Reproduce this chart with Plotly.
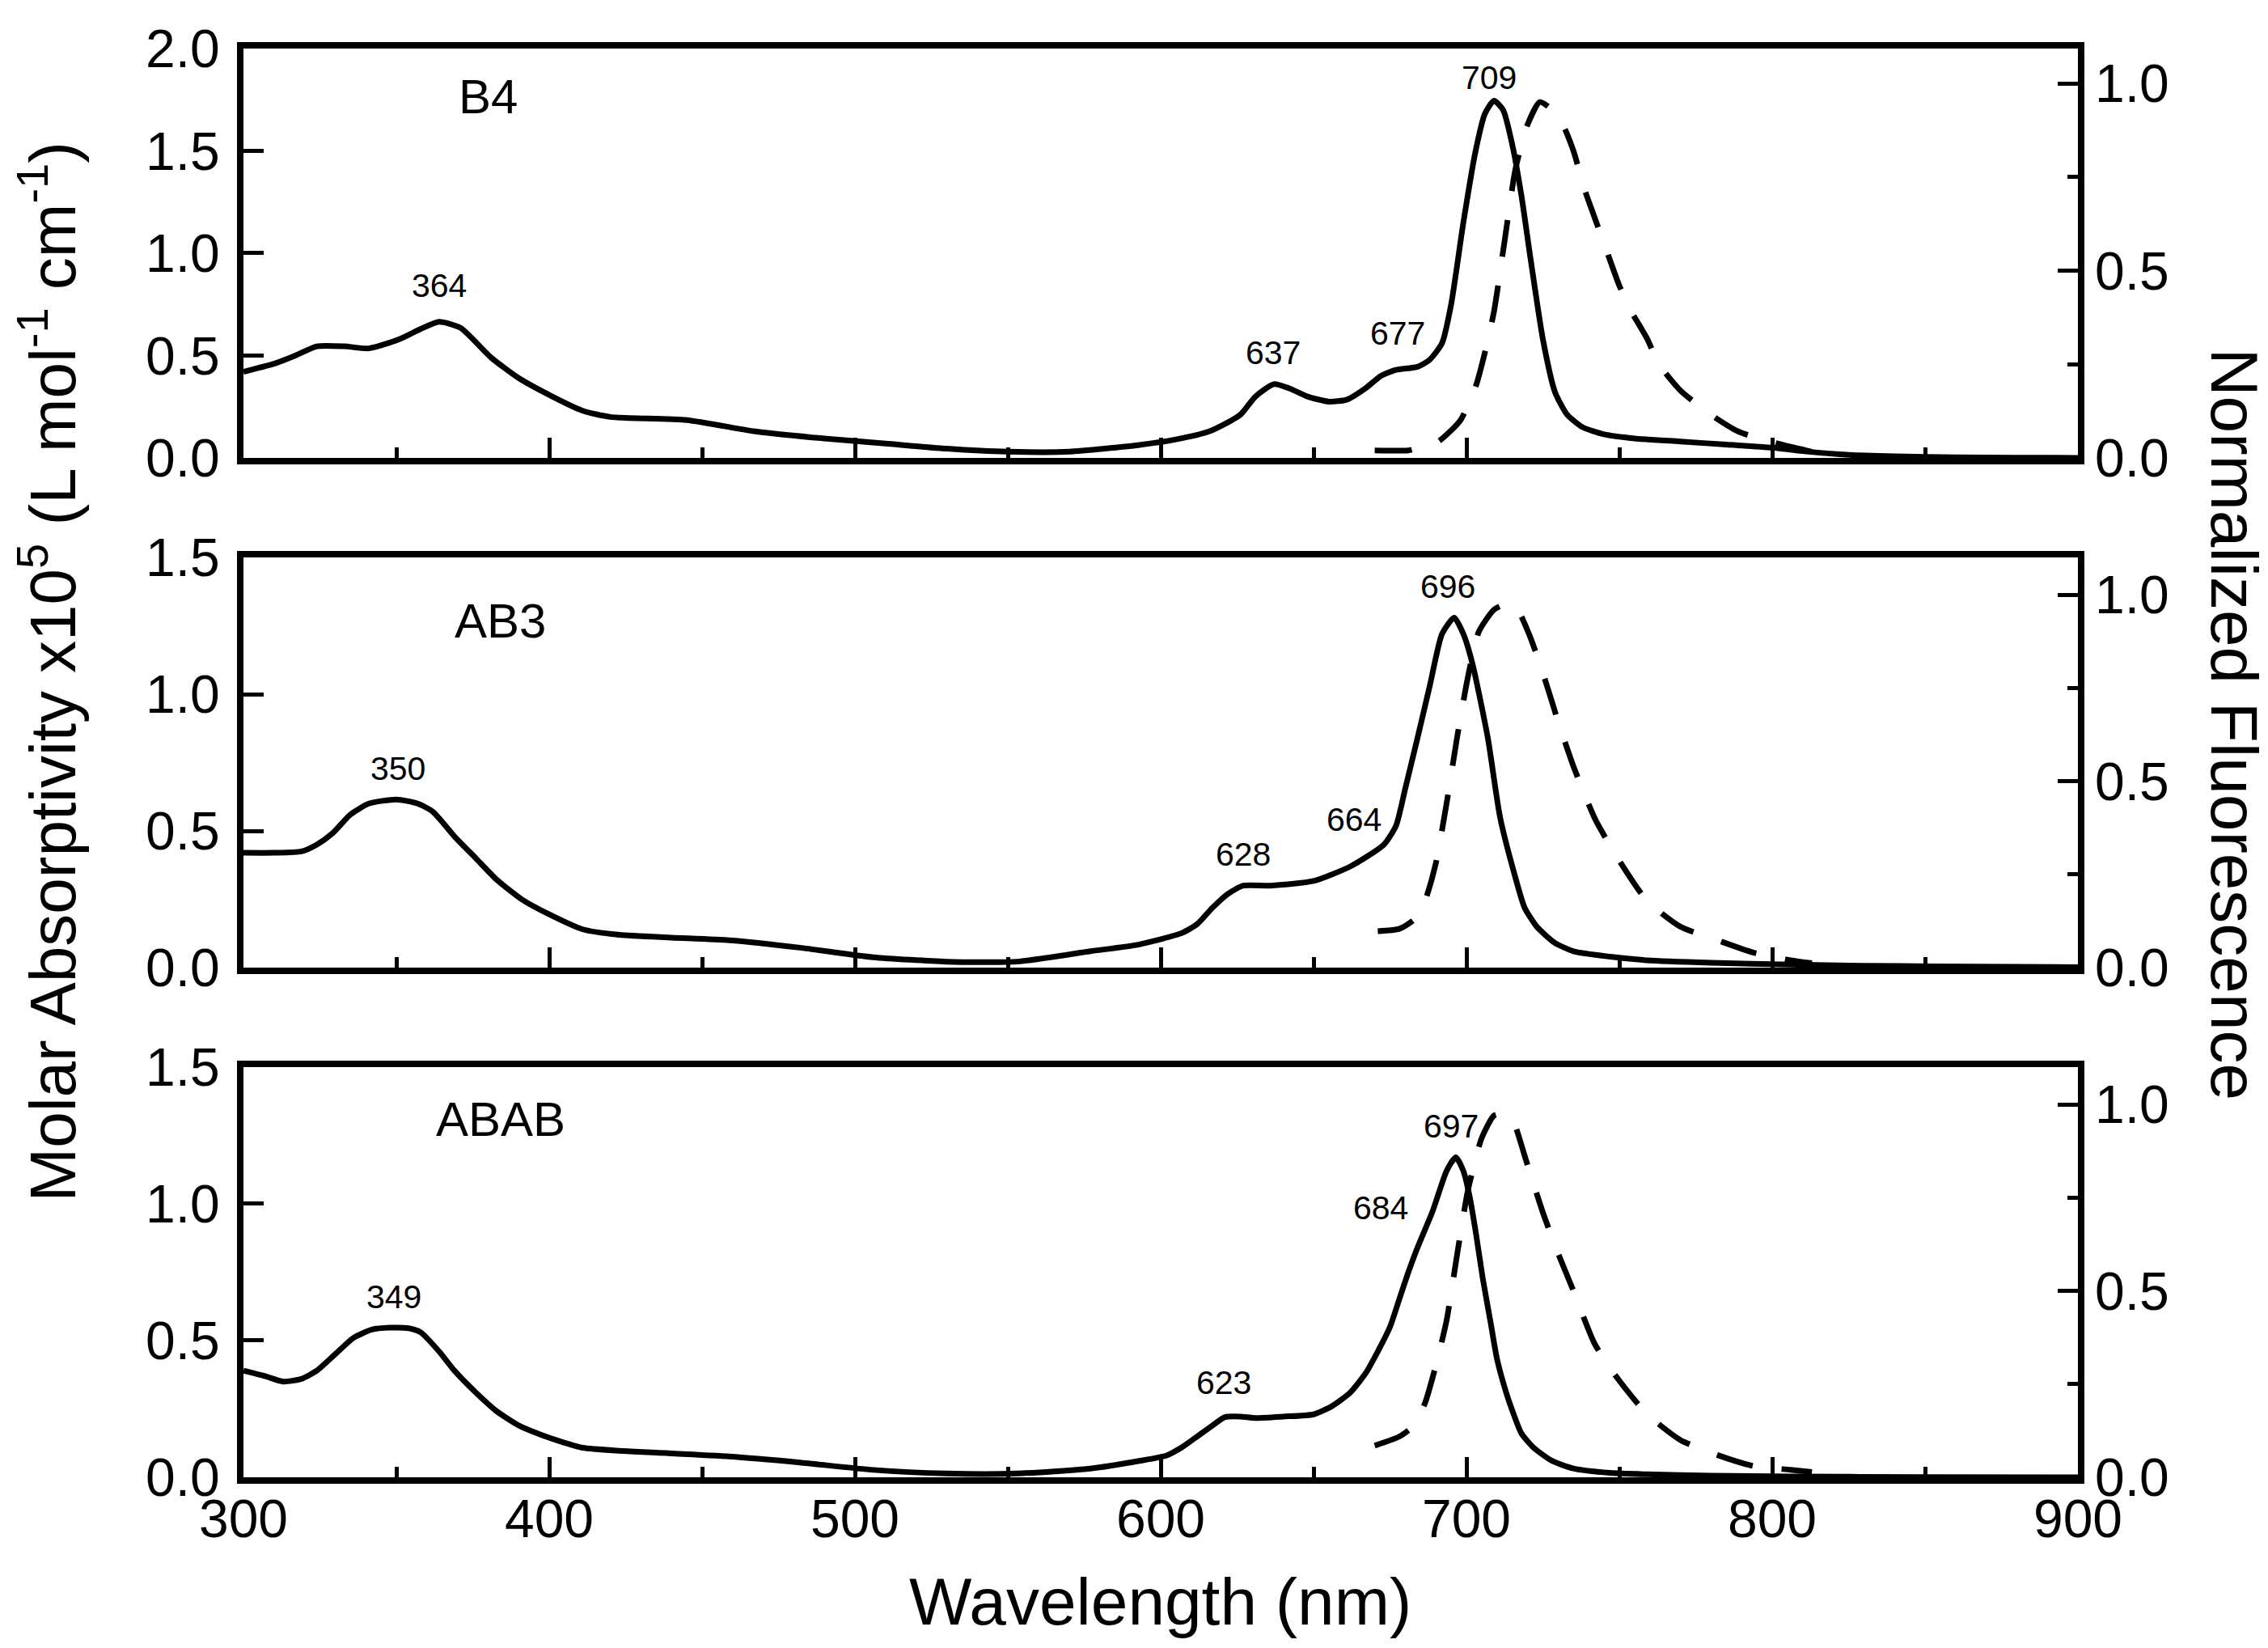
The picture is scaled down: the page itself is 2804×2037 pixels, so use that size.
import plotly.graph_objects as go

# -- datos (longitud de onda en nm)
b4_abs_x = [300, 305, 310, 317, 324, 333, 341, 351, 358, 364, 371, 381, 390, 401, 411, 420,
            445, 467, 486, 510, 530, 550, 570, 593, 605, 616, 626, 631, 637, 642, 648, 655,
            661, 667, 672, 677, 684, 688, 692, 695, 699, 703, 706, 709, 712, 715, 718, 721,
            725, 729, 733, 738, 745, 755, 770, 785, 800, 812, 825, 840, 860, 880, 900]
b4_abs_y = [0.42, 0.44, 0.46, 0.50, 0.545, 0.545, 0.535, 0.58, 0.63, 0.665, 0.635, 0.49, 0.39,
            0.30, 0.23, 0.20, 0.185, 0.13, 0.10, 0.07, 0.045, 0.03, 0.03, 0.063, 0.09, 0.13,
            0.21, 0.30, 0.36, 0.34, 0.30, 0.275, 0.285, 0.34, 0.40, 0.43, 0.445, 0.48, 0.56,
            0.75, 1.15, 1.50, 1.68, 1.745, 1.70, 1.53, 1.28, 0.97, 0.58, 0.32, 0.21, 0.15,
            0.115, 0.095, 0.08, 0.065, 0.05, 0.03, 0.015, 0.008, 0.003, 0.001, 0.0]
b4_fl_x = [670, 681, 686, 691, 698, 703, 706, 709, 712.5, 716, 720, 724, 728, 731, 735, 738.5,
           742, 746, 750, 754, 759, 763, 770, 780, 789, 801, 811, 815]
b4_fl_y = [0.02, 0.02, 0.03, 0.045, 0.10, 0.19, 0.28, 0.39, 0.58, 0.77, 0.89, 0.95, 0.93, 0.90,
           0.82, 0.72, 0.64, 0.55, 0.46, 0.39, 0.32, 0.25, 0.18, 0.115, 0.07, 0.04, 0.02, 0.012]

ab3_abs_x = [300, 310, 319, 324, 329, 335, 341, 350, 357, 362, 369, 376, 383, 391, 400, 411,
             423, 440, 459, 482, 506, 530, 553, 577, 593, 607, 612, 617, 622, 627, 636, 650,
             662, 673, 677, 680, 684, 688, 692, 696, 699, 702, 707, 711, 716, 719, 723, 729,
             735, 747, 759, 780, 806, 830, 853, 900]
ab3_abs_y = [0.42, 0.42, 0.425, 0.45, 0.49, 0.56, 0.60, 0.615, 0.60, 0.57, 0.48, 0.40, 0.32,
             0.25, 0.195, 0.14, 0.12, 0.11, 0.10, 0.073, 0.038, 0.022, 0.022, 0.06, 0.085,
             0.127, 0.16, 0.22, 0.27, 0.30, 0.30, 0.317, 0.37, 0.45, 0.52, 0.655, 0.84, 1.03,
             1.22, 1.28, 1.22, 1.11, 0.84, 0.55, 0.33, 0.22, 0.15, 0.09, 0.06, 0.04, 0.027,
             0.018, 0.011, 0.007, 0.005, 0.002]
ab3_fl_x = [671, 678, 683, 686.5, 690, 693.5, 697, 700.5, 704, 709, 713, 716, 720.7, 725.4,
            730, 735, 742, 749, 759, 770, 782, 794, 806, 813]
ab3_fl_y = [0.098, 0.104, 0.13, 0.18, 0.28, 0.44, 0.62, 0.78, 0.90, 0.96, 0.975, 0.97, 0.89,
            0.78, 0.66, 0.54, 0.40, 0.30, 0.18, 0.11, 0.074, 0.04, 0.02, 0.012]

abab_abs_x = [300, 307, 313, 319, 324, 330, 336, 342, 348, 354, 358, 364, 369, 376, 383, 390,
              397, 404, 411, 423, 435, 459, 482, 506, 530, 553, 577, 593, 602, 607, 612, 617,
              621, 626, 631, 640, 650, 656, 662, 667, 671, 675, 678, 681, 684, 689, 693.5,
              696.5, 699, 701, 703, 705.3, 708, 710, 713, 715, 718, 722, 728, 735, 747, 759,
              780, 806, 850, 900]
abab_abs_y = [0.39, 0.37, 0.35, 0.36, 0.39, 0.45, 0.51, 0.54, 0.547, 0.545, 0.53, 0.46, 0.39,
              0.31, 0.24, 0.19, 0.157, 0.13, 0.108, 0.097, 0.09, 0.076, 0.054, 0.027, 0.014,
              0.014, 0.032, 0.06, 0.08, 0.11, 0.15, 0.19, 0.22, 0.222, 0.217, 0.222, 0.23,
              0.26, 0.31, 0.38, 0.46, 0.55, 0.65, 0.75, 0.84, 0.975, 1.12, 1.17, 1.12, 1.03,
              0.90, 0.73, 0.56, 0.433, 0.31, 0.244, 0.16, 0.108, 0.06, 0.032, 0.016, 0.011,
              0.006, 0.003, 0.001, 0.0]
abab_fl_x = [670, 678, 683, 686.5, 690, 693.5, 697, 700.5, 705, 709, 712, 715, 719.5, 725,
             730, 735, 742, 749, 759, 770, 782, 794, 806, 813]
abab_fl_y = [0.085, 0.109, 0.14, 0.20, 0.30, 0.42, 0.60, 0.77, 0.91, 0.97, 0.975, 0.96, 0.85,
             0.71, 0.60, 0.50, 0.357, 0.27, 0.17, 0.10, 0.06, 0.03, 0.02, 0.014]

muestras = ['B4', 'AB3', 'ABAB']
# etiquetas de picos: (nm, altura del texto, texto)
picos_b4 = [(364.0, 0.84, '364'), (636.8, 0.515, '637'), (677.5, 0.608, '677'), (707.5, 1.858, '709')]
picos_ab3 = [(350.5, 0.728, '350'), (627.0, 0.414, '628'), (663.2, 0.542, '664'), (694.0, 1.395, '696')]
picos_abab = [(349.3, 0.66, '349'), (620.6, 0.347, '623'), (672.0, 0.985, '684'), (695.0, 1.283, '697')]
etiquetas_x = [380.0, 384.0, 384.0]
etiquetas_y = [1.765, 1.267, 1.308]

FONT = 'Liberation Sans, Arial'
negro = 'black'

fig = go.Figure()

paneles = [
    (b4_abs_x, b4_abs_y, b4_fl_x, b4_fl_y, picos_b4, [0, 2.0], [0, 1.093], [0.7135, 1.0]),
    (ab3_abs_x, ab3_abs_y, ab3_fl_x, ab3_fl_y, picos_ab3, [0, 1.5], [0, 1.10], [0.3567, 0.6438]),
    (abab_abs_x, abab_abs_y, abab_fl_x, abab_fl_y, picos_abab, [0, 1.5], [0, 1.10], [0.0, 0.2871]),
]

anotaciones = []
for i, (ax, ay, fx, fy, picos, rizq, rder, dom) in enumerate(paneles):
    n = i + 1
    xa = 'x' if n == 1 else 'x%d' % n
    yl = 'y' if n == 1 else 'y%d' % (2 * n - 1)
    yr = 'y%d' % (2 * n)

    fig.add_trace(go.Scatter(x=ax, y=ay, mode='lines', xaxis=xa, yaxis=yl,
                             line=dict(color=negro, width=7, shape='spline', smoothing=0.6),
                             showlegend=False))
    fig.add_trace(go.Scatter(x=fx, y=fy, mode='lines', xaxis=xa, yaxis=yr,
                             line=dict(color=negro, width=7, dash='46px,36px', shape='spline',
                                       smoothing=0.6),
                             showlegend=False))

    xkey = 'xaxis' if n == 1 else 'xaxis%d' % n
    ylkey = 'yaxis' if n == 1 else 'yaxis%d' % (2 * n - 1)
    yrkey = 'yaxis%d' % (2 * n)

    fig.layout[xkey] = dict(domain=[0, 1], anchor=yl, range=[300, 900], dtick=100, tick0=300,
                            ticks='inside', ticklen=25, tickwidth=5, tickcolor=negro,
                            showline=True, linewidth=8, linecolor=negro, mirror=True,
                            showgrid=False, zeroline=False, showticklabels=(n == 3),
                            ticklabelstandoff=-13,
                            tickfont=dict(family=FONT, size=66, color=negro),
                            minor=dict(dtick=50, ticks='inside', ticklen=13, tickwidth=5,
                                       tickcolor=negro, showgrid=False))
    fig.layout[ylkey] = dict(domain=dom, anchor=xa, range=rizq, dtick=0.5, tickformat='.1f',
                             ticks='inside', ticklen=25, tickwidth=5, tickcolor=negro,
                             showline=True, linewidth=8, linecolor=negro, mirror=True,
                             showgrid=False, zeroline=False, ticklabelstandoff=8,
                             tickfont=dict(family=FONT, size=66, color=negro))
    fig.layout[yrkey] = dict(overlaying=yl, anchor=xa, side='right', range=rder, dtick=0.5,
                             tickformat='.1f', ticks='inside', ticklen=25, tickwidth=5,
                             tickcolor=negro, showline=False, showgrid=False, zeroline=False,
                             ticklabelstandoff=20,
                             tickfont=dict(family=FONT, size=66, color=negro),
                             minor=dict(dtick=0.25, ticks='inside', ticklen=13, tickwidth=5,
                                        tickcolor=negro, showgrid=False))

    for (px, py, txt) in picos:
        anotaciones.append(dict(x=px, y=py, xref=xa, yref=yl, text=txt, showarrow=False,
                                xanchor='center', yanchor='middle',
                                font=dict(family=FONT, size=41, color=negro)))
    anotaciones.append(dict(x=etiquetas_x[i], y=etiquetas_y[i], xref=xa, yref=yl,
                            text=muestras[i], showarrow=False, xanchor='center',
                            yanchor='middle', font=dict(family=FONT, size=60, color=negro)))

anotaciones.append(dict(x=-0.1065, y=0.564, xref='paper', yref='paper', textangle=-90,
                        text='Molar Absorptivity x10<sup>5</sup> (L mol<sup>-1</sup> cm<sup>-1</sup>)',
                        showarrow=False, xanchor='center', yanchor='middle',
                        font=dict(family=FONT, size=80, color=negro)))
anotaciones.append(dict(x=1.0855, y=0.527, xref='paper', yref='paper', textangle=90,
                        text='Normalized Fluorescence', showarrow=False,
                        xanchor='center', yanchor='middle',
                        font=dict(family=FONT, size=82, color=negro)))
anotaciones.append(dict(x=0.4996, y=-0.087, xref='paper', yref='paper',
                        text='Wavelength (nm)', showarrow=False,
                        xanchor='center', yanchor='middle',
                        font=dict(family=FONT, size=82, color=negro)))

fig.update_layout(width=2804, height=2037, margin=dict(l=293, r=243, t=52, b=219),
                  paper_bgcolor='white', plot_bgcolor='white', showlegend=False,
                  annotations=anotaciones)

fig.write_html("out.html")
